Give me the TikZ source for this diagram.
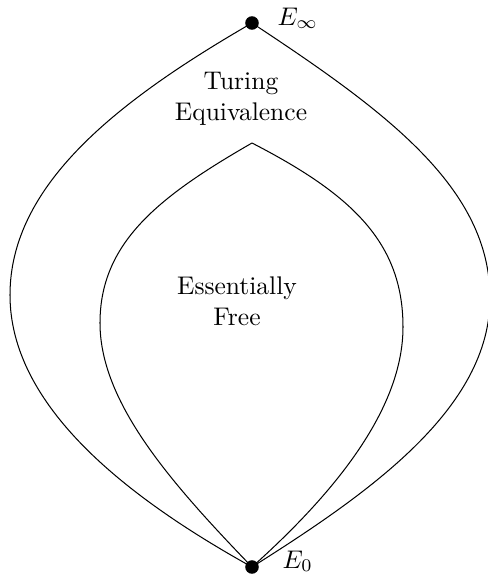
\documentclass[tikz,border=0pt]{standalone}
\usepackage{amsmath}
\usepackage{tikz}
\usetikzlibrary{positioning}
\tikzset{
  apex/.style={circle,fill=black,inner sep=0pt,minimum size=5.3pt},
  region/.style={align=center,font=\normalsize},
  tag/.style={anchor=base west,inner sep=0pt},
  boundary/.style={draw=black,line width=0.4pt}
}
\begin{document}
\begin{tikzpicture}[x=0.392pt,y=-0.392pt]
\useasboundingbox (0,0) rectangle (488,577);
\node[apex] (Einf) at (252,23) {};
\node[apex] (Ezero) at (252,567) {};
\coordinate (tip) at (252,143);

% outer region
\draw[boundary] (Einf.center) .. controls (117,101) and (10,185) .. (10,295)
  .. controls (10,405) and (124,496) .. (Ezero.center);
\draw[boundary] (Einf.center) .. controls (387,112) and (490,188) .. (490,298)
  .. controls (490,408) and (371,492) .. (Ezero.center);

% inner region
\draw[boundary] (tip) .. controls (158,197) and (100,243) .. (100,323)
  .. controls (100,403) and (172,484) .. (Ezero.center);
\draw[boundary] (tip) .. controls (351,194) and (403,242) .. (403,327)
  .. controls (403,407) and (338,490) .. (Ezero.center);

\node[region] (turing) at (241,99) {Turing\\Equivalence};
\node[region] (free) at (237,301) {Essentially\\Free};
\node[tag] (linf) at (277,25) {$E_\infty$};
\node[tag] (lzero) at (282,568) {$E_0$};
\end{tikzpicture}
\end{document}
